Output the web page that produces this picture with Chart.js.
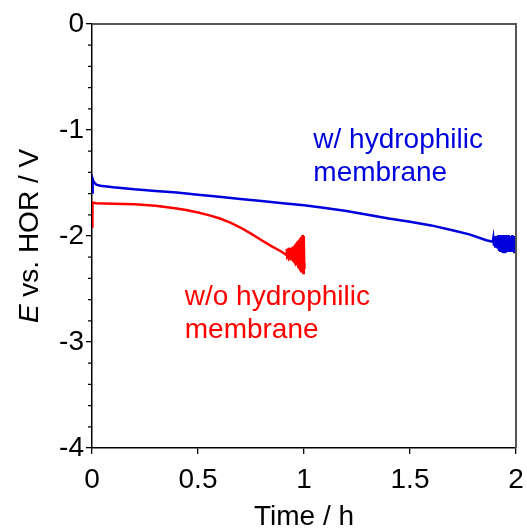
<!DOCTYPE html>
<html><head><meta charset="utf-8">
<script src="https://cdn.jsdelivr.net/npm/chart.js@4.4.1/dist/chart.umd.min.js"></script>
<style>html,body{margin:0;padding:0;background:#fff;}canvas{display:block;}</style>
</head><body>
<canvas id="c" width="527" height="530"></canvas>
<script>
// ---- data (time in h, potential in V) ----
const blueTime = [0, 0.003, 0.008, 0.02, 0.04, 0.1, 0.2, 0.3, 0.4, 0.5, 0.6, 0.7, 0.8, 0.9, 1.0, 1.1, 1.2, 1.3, 1.4, 1.5, 1.6, 1.7, 1.78, 1.86, 1.89,
  1.893, 1.896, 1.899, 1.902, 1.905, 1.908, 1.911, 1.914, 1.917, 1.920, 1.923, 1.926, 1.929, 1.932, 1.935, 1.938, 1.941, 1.944, 1.947, 1.950,
  1.953, 1.956, 1.959, 1.962, 1.965, 1.968, 1.971, 1.974, 1.977, 1.980, 1.983, 1.986, 1.989, 1.992, 1.995, 1.998, 2.0];
const blueE = [-1.59, -1.46, -1.49, -1.515, -1.525, -1.54, -1.56, -1.575, -1.59, -1.61, -1.63, -1.65, -1.67, -1.69, -1.71, -1.735, -1.765, -1.80, -1.835, -1.865, -1.90, -1.945, -1.985, -2.04, -2.055,
  -2.02, -2.09, -2.01, -2.10, -2.00, -2.11, -2.02, -2.12, -1.99, -2.13, -2.00, -2.14, -1.99, -2.15, -2.00, -2.16, -1.99, -2.15, -2.00, -2.16,
  -1.99, -2.14, -2.00, -2.15, -1.99, -2.14, -2.01, -2.15, -2.00, -2.13, -1.99, -2.14, -2.01, -2.15, -2.00, -2.13, -2.05];

const redTime = [0, 0.002, 0.02, 0.1, 0.2, 0.3, 0.4, 0.45, 0.5, 0.55, 0.6, 0.65, 0.7, 0.75, 0.8, 0.85, 0.88, 0.9, 0.917,
  0.919, 0.921, 0.925, 0.928, 0.930, 0.934, 0.937, 0.939, 0.942, 0.944, 0.947, 0.949, 0.951, 0.953, 0.955, 0.957, 0.959, 0.961,
  0.963, 0.965, 0.967, 0.969, 0.971, 0.973, 0.975, 0.977, 0.979, 0.981, 0.983, 0.985, 0.987, 0.989, 0.991, 0.993, 0.995, 0.997, 0.999, 1.001, 1.002];
const redE = [-1.91, -1.685, -1.69, -1.695, -1.70, -1.715, -1.74, -1.757, -1.778, -1.803, -1.833, -1.872, -1.92, -1.978, -2.04, -2.10, -2.132, -2.155, -2.18,
  -2.12, -2.20, -2.19, -2.11, -2.21, -2.20, -2.11, -2.22, -2.13, -2.22, -2.10, -2.23, -2.10, -2.24, -2.09, -2.25, -2.08, -2.26,
  -2.07, -2.27, -2.06, -2.28, -2.05, -2.29, -2.04, -2.30, -2.03, -2.31, -2.02, -2.33, -2.01, -2.34, -2.00, -2.35, -1.99, -2.35, -2.00, -2.30, -2.25];

const xTicks = [0, 0.5, 1, 1.5, 2];
const yTicks = [0, -1, -2, -3, -4];
const xTitle = 'Time / h';
const yTitleItalic = 'E';
const yTitleRest = ' vs. HOR / V';
const blueLabel = ['w/ hydrophilic', 'membrane'];
const redLabel = ['w/o hydrophilic', 'membrane'];

// ---- styling ----
const FONT = "'Liberation Sans', Arial, Helvetica, sans-serif";
const FS = 28;
const BLUE = '#0000dd';
const RED = '#ff0000';
const labelAnchors = {
  blue: {x: 1.044, y: -1.173, color: BLUE, lines: blueLabel},
  red: {x: 0.4375, y: -2.651, color: RED, lines: redLabel}
};

const toPts = (t, e) => t.map((v, i) => ({x: v, y: e[i]}));

const decor = {
  id: 'decor',
  afterDatasetsDraw(chart) {
    const {ctx, scales: {x, y}} = chart;
    ctx.save();
    ctx.font = FS + 'px ' + FONT;
    ctx.textBaseline = 'alphabetic';
    ctx.textAlign = 'left';
    for (const k of Object.keys(labelAnchors)) {
      const a = labelAnchors[k];
      const px = x.getPixelForValue(a.x), py = y.getPixelForValue(a.y);
      ctx.fillStyle = a.color;
      a.lines.forEach((s, i) => ctx.fillText(s, px, py + i * 33));
    }
    ctx.restore();
  },
  afterDraw(chart) {
    const {ctx, chartArea: a, scales: {y}} = chart;
    ctx.save();
    // top & right frame
    ctx.strokeStyle = '#555';
    ctx.lineWidth = 2;
    ctx.beginPath();
    ctx.moveTo(a.left, a.top);
    ctx.lineTo(a.right, a.top);
    ctx.lineTo(a.right, a.bottom);
    ctx.stroke();
    // minor y ticks
    ctx.strokeStyle = '#000';
    ctx.lineWidth = 1.2;
    ctx.beginPath();
    for (let i = 1; i < 20; i++) {
      if (i % 5 === 0) continue;
      const py = y.getPixelForValue(-4 + i * 0.2);
      ctx.moveTo(a.left - 4, py);
      ctx.lineTo(a.left, py);
    }
    ctx.stroke();
    // y title with italic E
    ctx.fillStyle = '#000';
    ctx.textBaseline = 'alphabetic';
    const fi = 'italic ' + FS + 'px ' + FONT, fn = FS + 'px ' + FONT;
    ctx.font = fi; const w1 = ctx.measureText(yTitleItalic).width;
    ctx.font = fn; const w2 = ctx.measureText(yTitleRest).width;
    const cy = (a.top + a.bottom) / 2;
    ctx.translate(38, cy + (w1 + w2) / 2);
    ctx.rotate(-Math.PI / 2);
    ctx.font = fi; ctx.fillText(yTitleItalic, 0, 0);
    ctx.font = fn; ctx.fillText(yTitleRest, w1, 0);
    ctx.restore();
  }
};

new Chart(document.getElementById('c'), {
  type: 'scatter',
  data: {
    datasets: [
      {data: toPts(blueTime, blueE), showLine: true, borderColor: BLUE, borderWidth: 2.5, pointRadius: 0, tension: 0},
      {data: toPts(redTime, redE), showLine: true, borderColor: RED, borderWidth: 2.5, pointRadius: 0, tension: 0}
    ]
  },
  options: {
    responsive: false,
    animation: false,
    events: [],
    layout: {padding: {top: 24, right: 11, left: 0, bottom: 0}},
    plugins: {legend: {display: false}, tooltip: {enabled: false}},
    scales: {
      x: {
        type: 'linear', min: 0, max: 2,
        afterBuildTicks: s => { s.ticks = xTicks.map(v => ({value: v})); },
        ticks: {color: '#000', font: {family: FONT, size: FS, lineHeight: 1}, padding: 12, maxRotation: 0, callback: v => String(v)},
        grid: {drawOnChartArea: false, drawTicks: true, tickLength: 6, color: '#000', lineWidth: 1.3},
        border: {display: true, color: '#000', width: 1.5},
        title: {display: true, text: xTitle, color: '#000', font: {family: FONT, size: FS, lineHeight: 1}, padding: {top: 0, bottom: -1}},
        afterFit: s => { s.height = 82; s.paddingLeft = 0; s.paddingRight = 0; }
      },
      y: {
        type: 'linear', min: -4, max: 0,
        afterBuildTicks: s => { s.ticks = yTicks.map(v => ({value: v})); },
        ticks: {color: '#000', font: {family: FONT, size: FS, lineHeight: 1}, padding: 2, callback: v => String(v)},
        grid: {drawOnChartArea: false, drawTicks: true, tickLength: 6, color: '#000', lineWidth: 1.3},
        border: {display: true, color: '#000', width: 1.5},
        afterFit: s => { s.width = 92; s.paddingTop = 0; s.paddingBottom = 0; }
      }
    }
  },
  plugins: [decor]
});
</script>
</body></html>
